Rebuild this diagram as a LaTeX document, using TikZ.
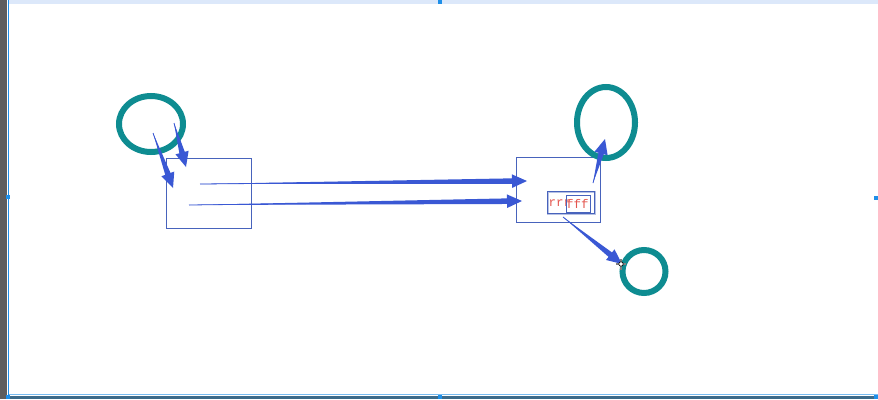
\documentclass[tikz,border=0pt]{standalone}
\usepackage{fontspec}
\setmonofont{Liberation Mono}
\usetikzlibrary{calc,shapes.geometric}
\definecolor{ring}{HTML}{0E8C91}
\definecolor{arrowblue}{HTML}{3A58D4}
\definecolor{boxline}{HTML}{4863BC}
\definecolor{labelred}{HTML}{E4554E}
\definecolor{chrome}{HTML}{5E5E5E}
\definecolor{selblue}{HTML}{1E8FE8}
\definecolor{bandtop}{HTML}{DCE8FA}
\definecolor{bandbot}{HTML}{3D6B8A}

% tapered arrow: point at the tail, widening shaft, flat head
\newcommand{\taper}[2]{%
  \fill[arrowblue] (#1) -- ($(#2)!15pt!(#1)!2.8pt!90:(#2)$)
    -- ($(#2)!15pt!(#1)!6.8pt!90:(#2)$) -- (#2)
    -- ($(#2)!15pt!(#1)!6.8pt!-90:(#2)$)
    -- ($(#2)!15pt!(#1)!2.8pt!-90:(#2)$) -- cycle;
  \draw[arrowblue, line width=0.8pt] (#1) -- ($(#2)!15pt!(#1)$);
}

\begin{document}
\begin{tikzpicture}[x=1pt, y=-1pt,
  ringnode/.style={ellipse, draw=ring, line width=6pt, inner sep=0pt},
  frame/.style={draw=boxline, line width=0.7pt, inner sep=0pt},
  handle/.style={fill=selblue, minimum size=4.5pt, inner sep=0pt},
  lbl/.style={font=\ttfamily\fontsize{12.5}{12.5}\selectfont, text=labelred, inner sep=0pt}
]
\useasboundingbox (0,0) rectangle (878,399);
\fill[white] (0,0) rectangle (878,399);

% editor chrome
\fill[chrome] (0,0) rectangle (7,399);
\fill[bandtop] (8,0) rectangle (878,3.5);
\fill[bandbot] (8,395.5) rectangle (878,399);
\draw[selblue!60, line width=0.8pt] (8,394.5) -- (878,394.5);
\draw[selblue, line width=1pt] (8,0) -- (8,399);
\node[handle] (h1) at (440,1.5) {};
\node[handle] (h2) at (8,197) {};
\node[handle] (h3) at (440,397) {};
\node[handle] (h4) at (876,198) {};
\node[handle] (h5) at (8,397) {};
\node[handle] (h6) at (876,397) {};

% boxes
\node[frame, minimum width=85pt, minimum height=70pt] (src) at (208.5,193) {};
\node[frame, minimum width=84pt, minimum height=65pt] (dst) at (558,189.5) {};
\node[draw=boxline!40, line width=2pt, minimum width=47pt, minimum height=22pt, inner sep=0pt] (grp) at (571,202.5) {};
\node[frame, minimum width=47pt, minimum height=22pt] at (571,202.5) {};
\node[lbl, anchor=west] (rr) at (548.5,203.5) {rrr};
\node[frame, minimum width=24pt, minimum height=17pt] (ff) at (578,203.5) {};
\node[lbl, anchor=west] (fff) at (566,203.5) {fff};

% rings
\node[ringnode, minimum width=64pt, minimum height=56pt] (ringa) at (151,124) {};
\node[ringnode, minimum width=58pt, minimum height=71pt] (ringb) at (606,122.5) {};
\node[ringnode, minimum width=43pt, minimum height=43pt] (ringc) at (644,271.5) {};

% arrow ends
\coordinate (a1) at (153,133);  \coordinate (b1) at (173,188);
\coordinate (a2) at (174,123);  \coordinate (b2) at (186,167);
\coordinate (a3) at (200,184);  \coordinate (b3) at (527,181);
\coordinate (a4) at (189,205);  \coordinate (b4) at (522,201);
\coordinate (a5) at (593,183);  \coordinate (b5) at (605,139);
\coordinate (a6) at (563,217);  \coordinate (b6) at (622,264);

\taper{a1}{b1}
\taper{a2}{b2}
\taper{a3}{b3}
\taper{a4}{b4}
\taper{a5}{b5}
\taper{a6}{b6}

% pointer
\coordinate (ptr) at (621,264);
\draw[gray, line width=1.2pt] ($(ptr)+(-5,0)$) -- ($(ptr)+(5,0)$) ($(ptr)+(0,-5)$) -- ($(ptr)+(0,6)$);
\draw[black, fill=white, line width=0.6pt] (ptr) circle (2.2);
\end{tikzpicture}
\end{document}
